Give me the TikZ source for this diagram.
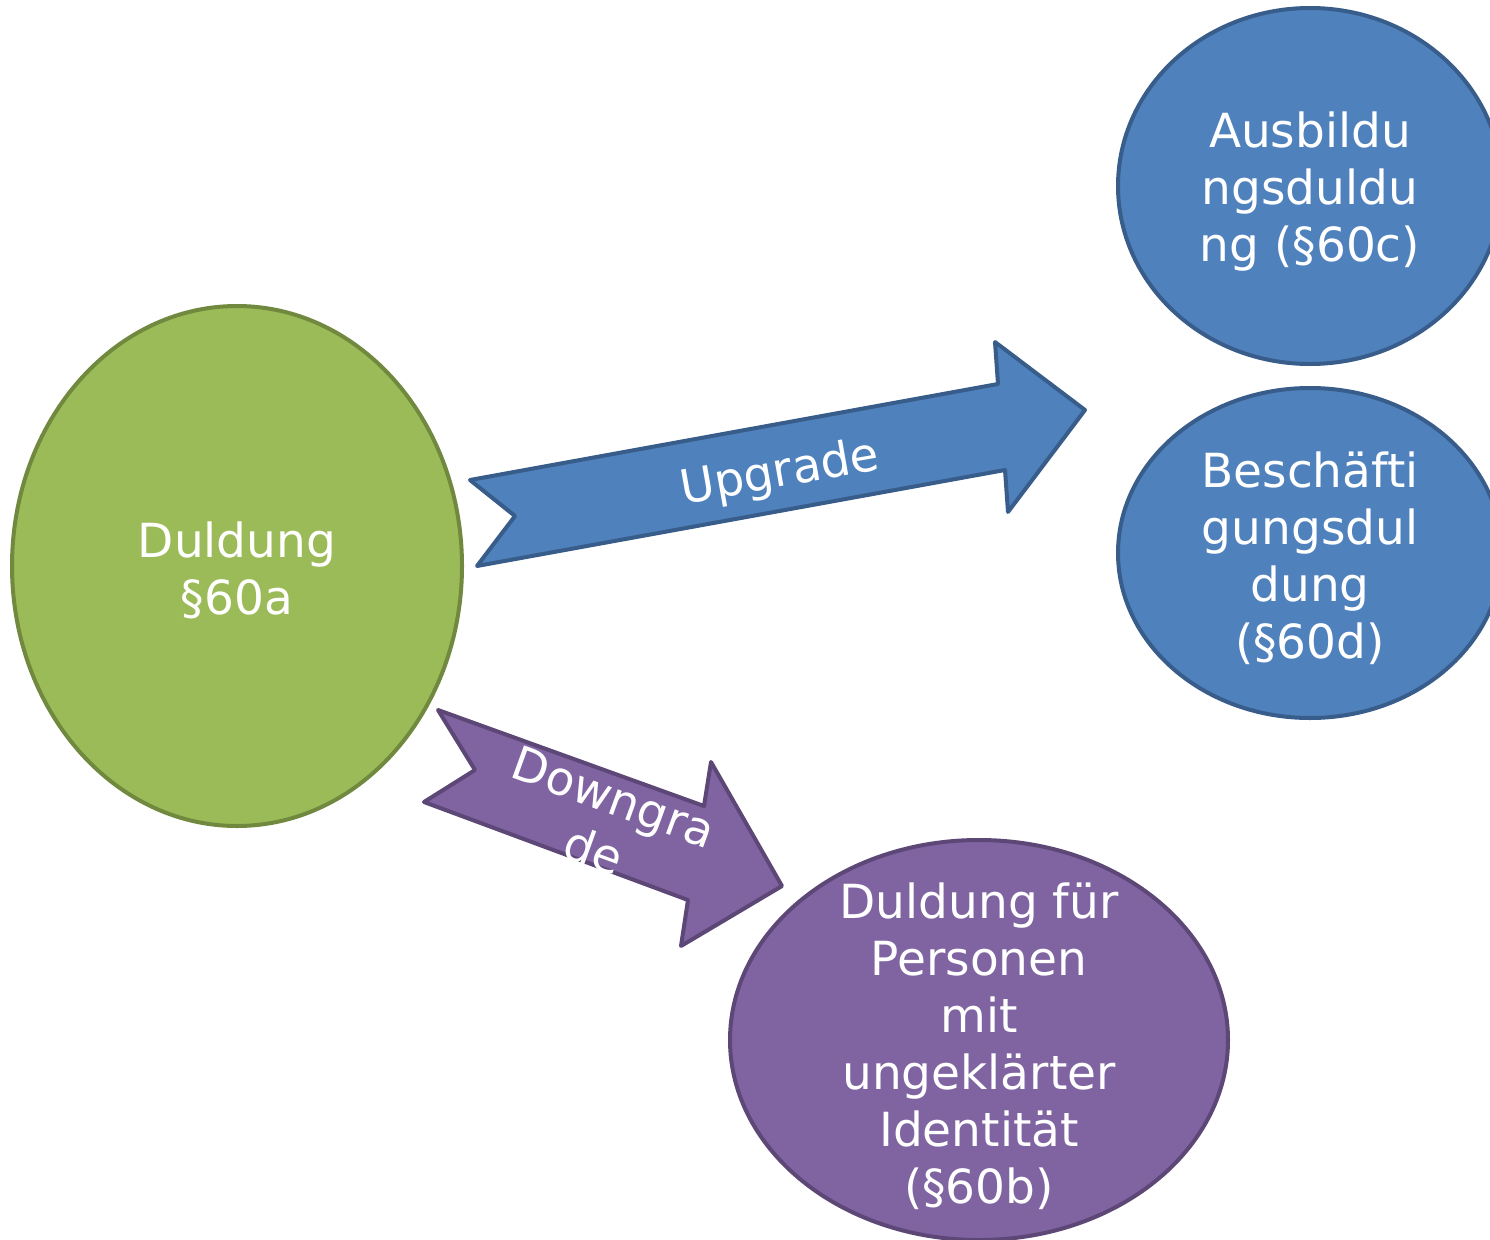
\documentclass[tikz,border=0pt]{standalone}
\usepackage{fontspec}
\setmainfont{DejaVu Sans}
\usetikzlibrary{shapes.geometric}

\definecolor{greenfill}{HTML}{9BBB59}
\definecolor{greenline}{HTML}{71893F}
\definecolor{bluefill}{HTML}{4F81BD}
\definecolor{blueline}{HTML}{385D8A}
\definecolor{purplefill}{HTML}{8064A2}
\definecolor{purpleline}{HTML}{5C4776}

\begin{document}
\begin{tikzpicture}[x=1pt,y=-1pt,
  blob/.style={ellipse,line width=4pt,inner sep=0pt},
  blobtext/.style={text=white,align=center,font=\fontsize{47}{57}\selectfont},
  arrowtext/.style={text=white,align=center,font=\fontsize{47}{57}\selectfont}]
\useasboundingbox (0,0) rectangle (1490,1239);
\clip (0,0) rectangle (1490,1239);
% the four states
\node[blob,draw=greenline,fill=greenfill,minimum width=450pt,minimum height=520pt]
  (duldung) at (237,566) {};
\node[blobtext] at (237,570) {Duldung\\§60a};
\node[blob,draw=blueline,fill=bluefill,minimum width=384pt,minimum height=356pt]
  (ausbildung) at (1310,186) {};
\node[blobtext] at (1310,192) {Ausbildu\\ngsduldu\\ng (§60c)};
\node[blob,draw=blueline,fill=bluefill,minimum width=384pt,minimum height=330pt]
  (beschaeftigung) at (1310,553) {};
\node[blobtext] at (1310,558) {Beschäfti\\gungsdul\\dung\\(§60d)};
\node[blob,draw=purpleline,fill=purplefill,minimum width=498pt,minimum height=400pt]
  (identitaet) at (979,1040) {};
\node[blobtext] at (979,1046) {Duldung für\\Personen\\mit\\ungeklärter\\Identität\\(§60b)};
% notched block arrows
\draw[line width=4pt,line join=round,draw=blueline,fill=bluefill]
  (470,480) -- (515,516) -- (477,566) -- (1005,470) -- (1008,512)
  -- (1085,410) -- (995,342) -- (998,384) -- cycle;
\node[arrowtext,rotate=10] (upgrade) at (780,474) {Upgrade};
\draw[line width=4pt,line join=round,draw=purpleline,fill=purplefill]
  (438,710) -- (475,770) -- (424,802) -- (688,900) -- (681,946)
  -- (782,886) -- (711,762) -- (704,806) -- cycle;
\node[arrowtext,rotate=-20] (downgrade) at (604,824) {Downgra\\de};
\end{tikzpicture}
\end{document}
